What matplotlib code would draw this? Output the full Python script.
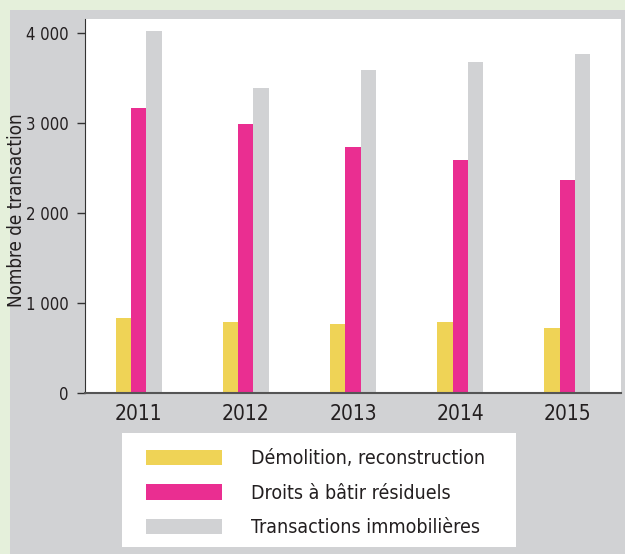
import numpy as np
import matplotlib.pyplot as plt
from matplotlib.patches import Rectangle
from matplotlib.ticker import FuncFormatter

plt.rcParams['font.family'] = ['DejaVu Sans']
plt.rcParams['font.stretch'] = 'condensed'

years = ['2011', '2012', '2013', '2014', '2015']
demolition = [837, 789, 767, 789, 722]
droits = [3167, 2989, 2733, 2589, 2367]
transactions = [4022, 3389, 3589, 3678, 3767]

series = ['Démolition, reconstruction', 'Droits à bâtir résiduels', 'Transactions immobilières']
colors = ['#efd356', '#ea2e91', '#d1d2d4']

W, H = 625, 554
fig = plt.figure(figsize=(W / 100, H / 100), dpi=100, facecolor='#e5f0db')
# grey panel
fig.patches.append(Rectangle((10 / W, 0), 1, 1 - 10 / H, transform=fig.transFigure,
                             facecolor='#d1d2d4', edgecolor='none', zorder=-5))
# white legend box
fig.patches.append(Rectangle((122 / W, 1 - 547 / H), 394 / W, 114 / H, transform=fig.transFigure,
                             facecolor='white', edgecolor='none', zorder=-4))

ax = fig.add_axes([85 / W, 1 - 393 / H, 536 / W, 374 / H])
ax.set_facecolor('white')

x = np.arange(len(years))
w = 0.143
for i, (vals, col, lab) in enumerate(zip([demolition, droits, transactions], colors, series)):
    ax.bar(x + (i - 1) * w, vals, width=w, color=col, label=lab, zorder=2)

ax.set_xlim(-0.5, 4.5)
ax.set_ylim(0, 4155)
ax.set_yticks([0, 1000, 2000, 3000, 4000])
ax.yaxis.set_major_formatter(FuncFormatter(lambda v, p: f'{int(v):,}'.replace(',', ' ')))
ax.set_xticks(x)
ax.set_xticklabels(years, fontsize=15, color='#231f20')
ax.tick_params(axis='x', length=0, pad=8)
ax.tick_params(axis='y', length=6, width=1, color='#333333', labelsize=12, labelcolor='#231f20', pad=6)
for s in ['top', 'right']:
    ax.spines[s].set_visible(False)
ax.spines['left'].set_color('#333333')
ax.spines['bottom'].set_color('#555555')
ax.spines['bottom'].set_linewidth(1.5)
ax.set_ylabel('Nombre de transaction', fontsize=13.5, color='#231f20')
ax.yaxis.set_label_coords(-0.11, 0.49)

leg = fig.legend(loc='upper left', bbox_to_anchor=(146 / W, 1 - 449 / H), ncol=1,
                 fontsize=14, frameon=False, handlelength=3.9, handleheight=0.85,
                 handletextpad=1.5, labelspacing=0.8, borderpad=0, borderaxespad=0)
for t in leg.get_texts():
    t.set_color('#231f20')

fig.savefig('out.png', dpi=100, facecolor=fig.get_facecolor())
